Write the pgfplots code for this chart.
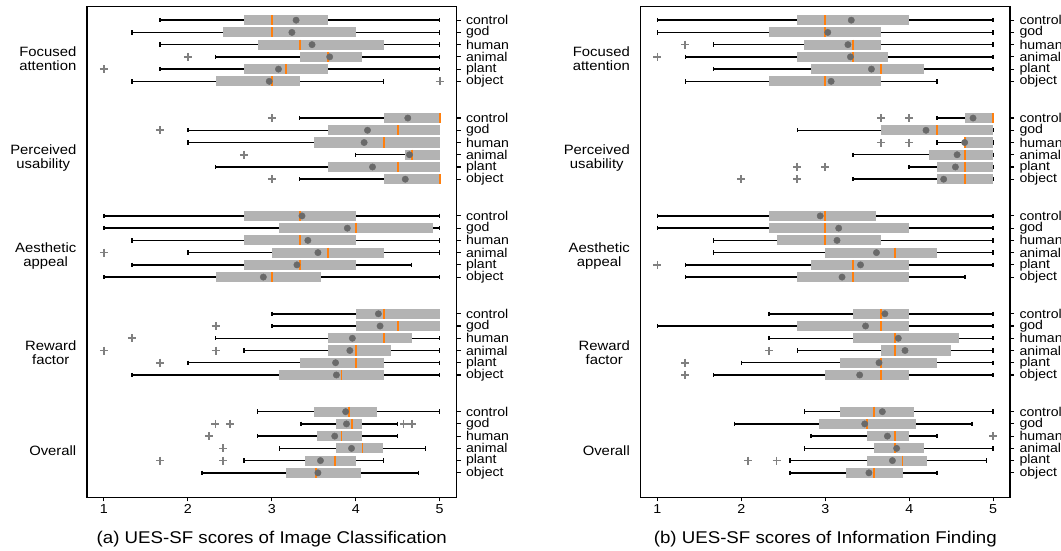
\documentclass[border=0pt]{standalone}
\usepackage{fontspec}
\setmainfont{Liberation Sans}[FakeStretch=1.1]
\usepackage{pgfplots}
\pgfplotsset{compat=1.18}
\usepgfplotslibrary{statistics}

\definecolor{boxgray}{RGB}{179,179,179}
\definecolor{medorange}{RGB}{255,127,14}
\definecolor{meangray}{RGB}{105,105,105}
\definecolor{outgray}{RGB}{128,128,128}

\pgfplotsset{
  ues/.style={
    scale only axis, width=369.5pt, height=490.6pt,
    xmin=0.8, xmax=5.2, ymin=-0.1, ymax=40, y dir=reverse,
    clip=false,
    xtick={1,2,3,4,5}, xtick pos=left,
    ytick={1,2,3,4,5,6,9,10,11,12,13,14,17,18,19,20,21,22,25,26,27,28,29,30,33,34,35,36,37,38},
    yticklabels={control,god,human,animal,plant,object,control,god,human,animal,plant,object,
      control,god,human,animal,plant,object,control,god,human,animal,plant,object,
      control,god,human,animal,plant,object},
    ytick pos=right, yticklabel pos=right,
    tick align=outside, major tick length=4pt,
    tick style={black, line width=1.1pt},
    axis line style={line width=1.3pt},
    /pgf/number format/assume math mode=true,
    xticklabel style={font=\fontsize{13}{14}\selectfont},
    yticklabel style={font=\fontsize{12.8}{13}\selectfont, xshift=2pt},
    xlabel style={font=\fontsize{17}{18}\selectfont, at={(axis description cs:0.5,0)},
      anchor=base, yshift=-46pt},
  },
  bxs/.style={black, line width=1.5pt,
    boxplot/draw direction=x, boxplot/box extend=0.82, boxplot/whisker extend=0.36,
    boxplot/every box/.style={fill=boxgray, draw=none},
    boxplot/every median/.style={draw=medorange, line width=1.8pt},
    boxplot/every whisker/.style={black, line width=1.5pt}},
  means/.style={only marks, mark=*, mark size=3.2pt, color=meangray},
  outl/.style={only marks, mark=+, mark size=4pt, color=outgray, mark options={line width=1.6pt}},
}
\tikzset{glab/.style={anchor=east, align=center, inner sep=0pt, text depth=0pt, xshift=-10.5pt,
    font=\fontsize{13.5}{13.7}\selectfont}}

% position, lower whisker, Q1, median, Q3, upper whisker
\newcommand{\bx}[6]{\addplot[bxs, boxplot prepared={draw position=#1,
  lower whisker=#2, lower quartile=#3, median=#4, upper quartile=#5, upper whisker=#6}]
  coordinates {};}

\newcommand{\grouplabels}{%
  \node[glab] at (axis cs:0.8,4.15) {Focused\\attention};
  \node[glab] at (axis cs:0.8,12.15) {Perceived\\usability};
  \node[glab] at (axis cs:0.8,20.15) {Aesthetic\\appeal};
  \node[glab] at (axis cs:0.8,28.15) {Reward\\factor};
  \node[glab] at (axis cs:0.8,36.15) {Overall};}

\begin{document}
\begin{tikzpicture}
\useasboundingbox (0,0) rectangle (1061pt,-550pt);

% (a) image classification
\begin{axis}[ues, at={(87pt,-6.7pt)}, anchor=north west,
  xlabel={(a) UES-SF scores of Image Classification}]
\bx{1}{1.667}{2.667}{3}{3.667}{5}
\bx{2}{1.333}{2.42}{3}{4}{5}
\bx{3}{1.667}{2.84}{3.333}{4.333}{5}
\bx{4}{2.333}{3.333}{3.667}{4.08}{5}
\bx{5}{1.667}{2.667}{3.167}{3.667}{5}
\bx{6}{1.333}{2.333}{3}{3.333}{4.333}
\bx{9}{3.333}{4.333}{5}{5}{5}
\bx{10}{2}{3.667}{4.5}{5}{5}
\bx{11}{2}{3.5}{4.333}{5}{5}
\bx{12}{4}{4.59}{4.667}{5}{5}
\bx{13}{2.333}{3.667}{4.5}{5}{5}
\bx{14}{3.333}{4.333}{5}{5}{5}
\bx{17}{1}{2.667}{3.333}{4}{5}
\bx{18}{1}{3.09}{4}{4.92}{5}
\bx{19}{1.333}{2.667}{3.333}{4}{5}
\bx{20}{2}{3}{3.667}{4.333}{5}
\bx{21}{1.333}{2.667}{3.333}{4}{4.667}
\bx{22}{1}{2.333}{3}{3.59}{5}
\bx{25}{3}{4}{4.333}{5}{5}
\bx{26}{3}{4}{4.5}{5}{5}
\bx{27}{2.333}{3.667}{4.333}{4.667}{5}
\bx{28}{2.667}{3.667}{4}{4.42}{5}
\bx{29}{2}{3.333}{4}{4.333}{5}
\bx{30}{1.333}{3.09}{3.83}{4.333}{5}
\bx{33}{2.83}{3.5}{3.92}{4.25}{5}
\bx{34}{3.35}{3.77}{3.96}{4.07}{4.5}
\bx{35}{2.83}{3.54}{3.83}{4.08}{4.5}
\bx{36}{3.09}{3.76}{4.08}{4.33}{4.83}
\bx{37}{2.67}{3.4}{3.75}{4}{4.33}
\bx{38}{2.17}{3.17}{3.53}{4.06}{4.75}
\addplot[outl] coordinates {
  (2,4) (1,5) (5,6) (3,9) (1.667,10) (2.667,12) (3,14) (1,20)
  (2.333,26) (1.333,27) (1,28) (2.333,28) (1.667,29)
  (2.33,34) (2.5,34) (4.57,34) (4.67,34) (2.25,35) (2.42,36) (1.67,37) (2.42,37)};
\addplot[means] coordinates {
  (3.29,1) (3.24,2) (3.48,3) (3.69,4) (3.08,5) (2.97,6)
  (4.62,9) (4.14,10) (4.10,11) (4.64,12) (4.20,13) (4.59,14)
  (3.36,17) (3.90,18) (3.43,19) (3.55,20) (3.30,21) (2.90,22)
  (4.27,25) (4.29,26) (3.96,27) (3.93,28) (3.76,29) (3.77,30)
  (3.88,33) (3.89,34) (3.75,35) (3.95,36) (3.58,37) (3.55,38)};
\grouplabels
\end{axis}

% (b) information finding
\begin{axis}[ues, at={(640.5pt,-6.7pt)}, anchor=north west,
  xlabel={(b) UES-SF scores of Information Finding}]
\bx{1}{1}{2.667}{3}{4}{5}
\bx{2}{1}{2.333}{3}{3.667}{5}
\bx{3}{1.667}{2.75}{3.333}{3.667}{5}
\bx{4}{1.333}{2.667}{3.333}{3.75}{5}
\bx{5}{1.667}{2.83}{3.667}{4.17}{5}
\bx{6}{1.333}{2.333}{3}{3.667}{4.333}
\bx{9}{4.333}{4.667}{5}{5}{5}
\bx{10}{2.667}{3.667}{4.333}{5}{5}
\bx{11}{4.333}{4.667}{4.667}{5}{5}
\bx{12}{3.333}{4.24}{4.667}{5}{5}
\bx{13}{4}{4.333}{4.667}{5}{5}
\bx{14}{3.333}{4.333}{4.667}{5}{5}
\bx{17}{1}{2.333}{3}{3.6}{5}
\bx{18}{1}{2.333}{3}{4}{5}
\bx{19}{1.667}{2.42}{3}{3.667}{5}
\bx{20}{1.667}{3}{3.83}{4.333}{5}
\bx{21}{1.333}{2.83}{3.333}{4}{5}
\bx{22}{1.333}{2.667}{3.333}{4}{4.667}
\bx{25}{2.333}{3.333}{3.667}{4}{5}
\bx{26}{1}{2.667}{3.667}{4}{5}
\bx{27}{2.333}{3.333}{3.83}{4.59}{5}
\bx{28}{2.667}{3.667}{3.83}{4.5}{5}
\bx{29}{2}{3.17}{3.667}{4.333}{5}
\bx{30}{1.667}{3}{3.667}{4}{5}
\bx{33}{2.75}{3.17}{3.58}{4.06}{5}
\bx{34}{1.92}{2.92}{3.5}{4.08}{4.75}
\bx{35}{2.83}{3.5}{3.83}{4}{4.33}
\bx{36}{2.75}{3.58}{3.83}{4.17}{5}
\bx{37}{2.58}{3.5}{3.92}{4.21}{4.92}
\bx{38}{2.58}{3.25}{3.58}{3.92}{4.33}
\addplot[outl] coordinates {
  (1.333,3) (1,4) (3.667,9) (4,9) (3.667,11) (4,11) (2.667,13) (3,13) (2,14) (2.667,14)
  (1,21) (2.333,28) (1.333,29) (1.333,30) (5,35) (2.08,37) (2.42,37)};
\addplot[means] coordinates {
  (3.31,1) (3.03,2) (3.27,3) (3.30,4) (3.55,5) (3.07,6)
  (4.76,9) (4.20,10) (4.66,11) (4.57,12) (4.55,13) (4.41,14)
  (2.94,17) (3.16,18) (3.14,19) (3.61,20) (3.42,21) (3.20,22)
  (3.71,25) (3.48,26) (3.87,27) (3.95,28) (3.64,29) (3.41,30)
  (3.68,33) (3.47,34) (3.74,35) (3.85,36) (3.80,37) (3.52,38)};
\grouplabels
\end{axis}
\end{tikzpicture}
\end{document}
